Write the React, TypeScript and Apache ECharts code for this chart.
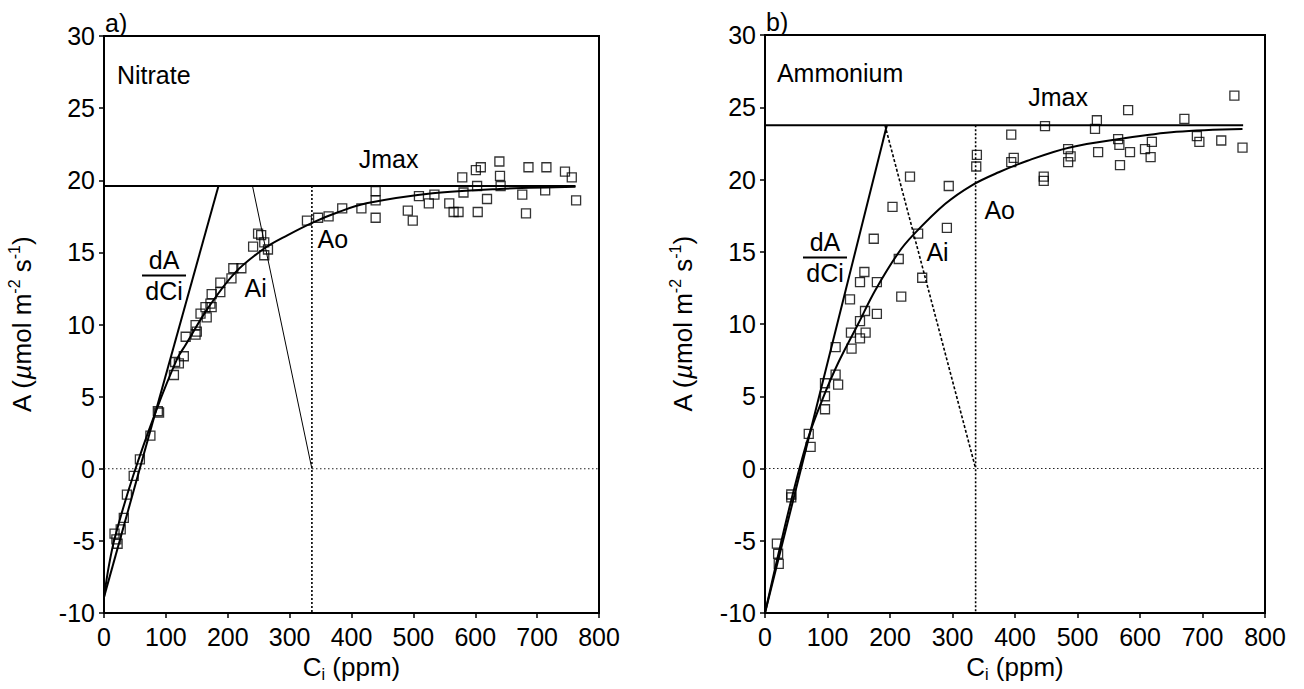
import React, { useEffect, useRef } from "react";
import * as echarts from "echarts";

const FONT = "'Liberation Sans', Arial, Helvetica, sans-serif";

// ---------- Panel a) Nitrate ----------
const nitratePoints: [number, number][] = [
  [17, -4.5], [20, -4.9], [22, -5.2], [27, -4.2], [32, -3.4], [37, -1.8], [48, -0.5],
  [58, 0.65], [75, 2.3], [87, 4.0], [89, 3.9], [113, 6.5], [115, 7.4], [121, 7.3], [129, 7.8],
  [132, 9.15], [148, 9.3], [150, 9.5], [148, 9.95], [166, 10.5], [156, 10.75], [164, 11.2],
  [174, 11.2], [172, 11.45], [174, 12.1], [188, 12.25], [188, 12.9], [206, 13.2], [209, 13.9],
  [222, 13.9], [259, 14.8], [265, 15.2], [241, 15.4], [259, 15.7], [254, 16.2], [249, 16.3],
  [328, 17.2], [346, 17.4], [363, 17.5], [385, 18.05], [416, 18.05], [439, 19.25], [439, 18.6],
  [439, 17.4], [509, 18.9], [491, 17.9], [499, 17.2], [525, 18.4], [534, 19.0], [558, 18.4],
  [565, 17.8], [573, 17.8], [579, 20.2], [581, 19.15], [601, 20.7], [609, 20.9], [603, 19.6],
  [604, 17.8], [619, 18.7], [639, 21.3], [640, 20.3], [641, 19.6], [676, 19.0], [686, 20.9],
  [682, 17.7], [715, 20.9], [713, 19.3], [745, 20.6], [756, 20.2], [763, 18.6],
];
const nitrateCurve: [number, number][] = [
  [0, -8.9], [8, -6.7], [18, -4.7], [47, -0.5], [84, 4.0], [118, 7.6], [132, 8.6], [169, 11.2],
  [212, 13.6], [260, 15.3], [297, 16.2], [339, 17.1], [376, 17.75], [424, 18.4],
  [531, 19.1], [639, 19.4], [762, 19.55],
];
const nitrateJmax: [number, number][] = [[0, 19.6], [762, 19.6]];
const nitrateSlope: [number, number][] = [[0, -8.9], [185, 19.6]];
const nitrateAi: [number, number][] = [[240, 19.6], [336, 0]];
const nitrateAo: [number, number][] = [[336, 19.6], [336, -10]];

// ---------- Panel b) Ammonium ----------
const ammoniumPoints: [number, number][] = [
  [19, -5.2], [21, -5.9], [22, -6.6], [42, -1.8], [42, -2.0], [70, 2.4], [73, 1.5],
  [96, 4.1], [96, 5.0], [96, 5.9], [117, 5.8], [113, 6.5], [113, 8.4], [138.5, 8.3],
  [152, 9.0], [161, 9.4], [137.5, 9.4], [152, 10.2], [179, 10.7], [160, 10.9], [136, 11.7],
  [218, 11.9], [179, 12.9], [152, 12.9], [159, 13.6], [251.5, 13.2], [214, 14.5], [174, 15.9],
  [245, 16.26], [291, 16.65], [204, 18.1], [294, 19.55], [232, 20.2],
  [339, 21.7], [338, 20.9], [394, 23.1], [398, 21.5], [394, 21.2], [448, 23.7], [446, 20.2],
  [446, 19.9], [485, 22.1], [489, 21.6], [485, 21.2], [533, 21.9], [531, 24.1], [528, 23.5],
  [581, 24.8], [565, 22.8], [567, 22.4], [568, 21.0], [584, 21.9], [608, 22.1], [619, 22.6],
  [617, 21.55], [671, 24.2], [691, 23.0], [695, 22.6], [730, 22.7], [764, 22.2], [751, 25.8],
];
const ammoniumCurve: [number, number][] = [
  [0, -10], [21, -6.0], [42, -2.2], [69, 2.1], [93, 4.9], [117, 7.3], [149, 10.0],
  [176, 12.3], [213, 14.9], [238, 16.2], [288, 18.3], [331, 19.6], [374, 20.5], [420, 21.3],
  [486, 22.2], [567, 22.8], [658, 23.3], [764, 23.5],
];
const ammoniumJmax: [number, number][] = [[0, 23.75], [765, 23.75]];
const ammoniumSlope: [number, number][] = [[0, -10], [195, 23.75]];
const ammoniumAi: [number, number][] = [[192, 23.75], [337, 0]];
const ammoniumAo: [number, number][] = [[337, 23.75], [337, -10]];

const zeroLine: [number, number][] = [[0, 0], [800, 0]];

const panelLetters = ["a)", "b)"];
const panelNames = ["Nitrate", "Ammonium"];

// annotation anchors in data coordinates (per panel)
const annoPos = [
  { name: [21, 27.3], jmax: [460, 21.5], ao: [345, 15.9], ai: [245, 12.5], frac: [97, 13.4] },
  { name: [19, 27.4], jmax: [469, 25.7], ao: [351, 17.9], ai: [276, 15.0], frac: [96, 14.6] },
];

const GRIDS = [
  { left: 104, top: 36, width: 495, height: 577 },
  { left: 765, top: 35, width: 500, height: 578 },
];

function App() {
  const ref = useRef<HTMLDivElement>(null);
  useEffect(() => {
    document.body.style.margin = "0";
    if (!ref.current) return;
    const chart = echarts.init(ref.current, undefined, { renderer: "svg" });

    const axisLine = { show: true, onZero: false, lineStyle: { color: "#000", width: 2 } };
    const axisTick = { show: true, inside: false, length: 5, lineStyle: { color: "#000", width: 1.5 } };
    const labelStyle = { color: "#000", fontSize: 25, fontFamily: FONT };
    const rich = {
      n: { fontSize: 26, fontFamily: FONT, color: "#000", lineHeight: 32 },
      mu: { fontSize: 26, fontFamily: FONT, color: "#000", fontStyle: "italic", lineHeight: 32 },
      sup: { fontSize: 16, fontFamily: FONT, color: "#000", lineHeight: 16, verticalAlign: "top" },
      sub: { fontSize: 16, fontFamily: FONT, color: "#000", lineHeight: 16, verticalAlign: "bottom" },
    };

    const xAxes = [0, 1].map((i) => ({
      type: "value",
      gridIndex: i,
      min: 0,
      max: 800,
      interval: 100,
      axisLine,
      axisTick,
      splitLine: { show: false },
      axisLabel: { ...labelStyle, margin: 11 },
      name: "{n|C}{sub|i}{n| (ppm)}",
      nameLocation: "middle",
      nameGap: 36,
      nameTextStyle: { ...labelStyle, rich },
    }));
    const yAxes = [0, 1].map((i) => ({
      type: "value",
      gridIndex: i,
      min: -10,
      max: 30,
      interval: 5,
      axisLine,
      axisTick,
      splitLine: { show: false },
      axisLabel: { ...labelStyle, margin: 9 },
      name: "{n|A (}{mu|µ}{n|mol m}{sup|-2}{n| s}{sup|-1}{n|)}",
      nameLocation: "middle",
      nameRotate: 90,
      nameGap: 66,
      nameTextStyle: { ...labelStyle, rich },
    }));

    const line = (data: [number, number][], i: number, style: any, extra: any = {}) => ({
      type: "line",
      xAxisIndex: i,
      yAxisIndex: i,
      data,
      showSymbol: false,
      symbol: "none",
      silent: true,
      lineStyle: { color: "#000", ...style },
      z: 2,
      ...extra,
    });
    const scatter = (data: [number, number][], i: number) => ({
      type: "scatter",
      xAxisIndex: i,
      yAxisIndex: i,
      data,
      symbol: "rect",
      symbolSize: 9,
      itemStyle: { color: "rgba(0,0,0,0)", borderColor: "#000", borderWidth: 1.3 },
      z: 3,
    });

    const series = [
      line(zeroLine, 0, { width: 1.2, type: [1.5, 2.5], color: "#222" }),
      line(nitrateAo, 0, { width: 1.6, type: [2, 2] }),
      line(nitrateAi, 0, { width: 1 }),
      line(nitrateSlope, 0, { width: 2 }),
      line(nitrateJmax, 0, { width: 2 }),
      line(nitrateCurve, 0, { width: 2 }, { smooth: 0.35 }),
      scatter(nitratePoints, 0),
      line(zeroLine, 1, { width: 1.2, type: [1.5, 2.5], color: "#222" }),
      line(ammoniumAo, 1, { width: 1.6, type: [2, 2] }),
      line(ammoniumAi, 1, { width: 1.6, type: [3, 2] }),
      line(ammoniumSlope, 1, { width: 2 }),
      line(ammoniumJmax, 1, { width: 2 }),
      line(ammoniumCurve, 1, { width: 2 }, { smooth: 0.35 }),
      scatter(ammoniumPoints, 1),
    ];

    chart.setOption({
      animation: false,
      backgroundColor: "#fff",
      grid: GRIDS.map((g) => ({ ...g, show: true, borderColor: "#000", borderWidth: 2, containLabel: false })),
      xAxis: xAxes,
      yAxis: yAxes,
      series,
    });

    const txt = (x: number, y: number, text: string, align = "left", vAlign = "middle", size = 25) => ({
      type: "text",
      x,
      y,
      silent: true,
      style: { text, fill: "#000", font: `${size}px ${FONT}`, textAlign: align, textVerticalAlign: vAlign },
    });

    const graphics: any[] = [];
    [0, 1].forEach((i) => {
      const p = (v: number[]) => chart.convertToPixel({ gridIndex: i }, v) as number[];
      const a = annoPos[i];
      const corner = p([0, 30]);
      graphics.push(txt(corner[0] + 1, corner[1] - 1, panelLetters[i], "left", "bottom"));
      const n = p(a.name);
      graphics.push(txt(n[0], n[1], panelNames[i], "left", "middle"));
      const j = p(a.jmax);
      graphics.push(txt(j[0], j[1], "Jmax", "center", "middle"));
      const ao = p(a.ao);
      graphics.push(txt(ao[0], ao[1], "Ao", "left", "middle"));
      const ai = p(a.ai);
      graphics.push(txt(ai[0], ai[1], "Ai", "center", "middle"));
      const f = p(a.frac);
      graphics.push(txt(f[0], f[1] - 3, "dA", "center", "bottom"));
      graphics.push(txt(f[0], f[1] + 3, "dCi", "center", "top"));
      graphics.push({
        type: "line",
        silent: true,
        shape: { x1: f[0] - 22, y1: f[1], x2: f[0] + 22, y2: f[1] },
        style: { stroke: "#000", lineWidth: 2 },
      });
    });
    chart.setOption({ graphic: graphics });

    return () => chart.dispose();
  }, []);
  return <div ref={ref} style={{ width: 1304, height: 689 }} />;
}

export default App;
